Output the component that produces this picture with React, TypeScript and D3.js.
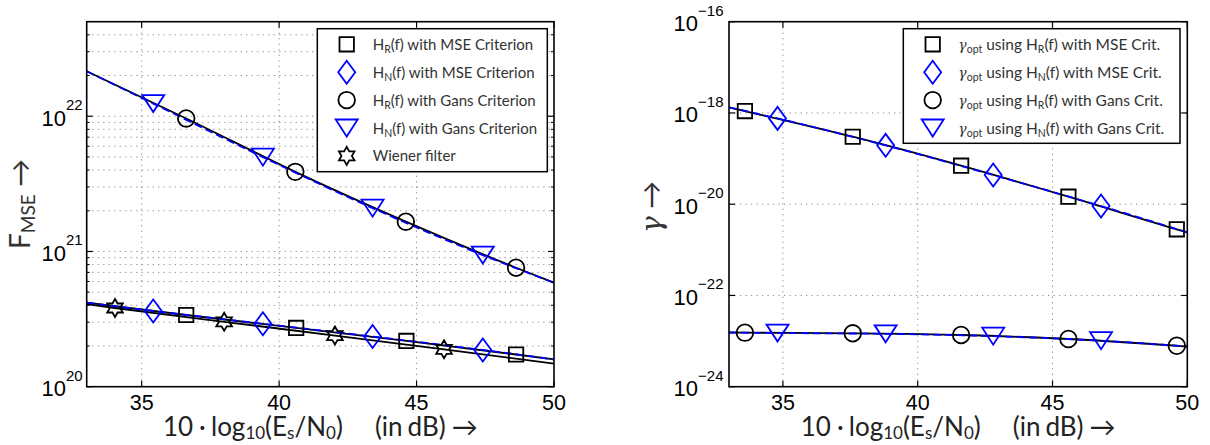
import * as d3 from "d3";

// ---- data (x in dB, y linear values) ----
// left panel: F_MSE
const hrGansX = [33, 36.62, 40.59, 44.61, 48.62, 50];
const hrGansY = [2.15e22, 9.63e21, 3.88e21, 1.66e21, 7.58e20, 5.87e20];
const hnGansX = [33, 35.42, 39.41, 43.4, 47.41, 50];
const hnGansY = [2.15e22, 1.24e22, 4.98e21, 2.09e21, 9.4e20, 5.87e20];
const hrMseX = [33, 36.62, 40.62, 44.63, 48.62, 50];
const hrMseY = [4.18e20, 3.39e20, 2.72e20, 2.18e20, 1.73e20, 1.59e20];
const hnMseX = [33, 35.42, 39.41, 43.4, 47.41, 50];
const hnMseY = [4.18e20, 3.63e20, 2.92e20, 2.35e20, 1.87e20, 1.59e20];
const wienerX = [33, 34.03, 38.0, 42.03, 46.0, 50];
const wienerY = [4.08e20, 3.82e20, 3.02e20, 2.39e20, 1.89e20, 1.48e20];

// right panel: gamma_opt
const gHrMseX = [33, 33.59, 37.59, 41.61, 45.59, 49.61, 50];
const gHrMseY = [1.33e-18, 1.1e-18, 3.01e-19, 6.98e-20, 1.46e-20, 2.82e-21, 2.42e-21];
const gHnMseX = [33, 34.8, 38.81, 42.8, 46.8, 50];
const gHnMseY = [1.33e-18, 7.6e-19, 1.95e-19, 4.37e-20, 9.1e-21, 2.42e-21];
const gHrGansX = [33, 33.59, 37.59, 41.61, 45.59, 49.61, 50];
const gHrGansY = [1.54e-23, 1.53e-23, 1.48e-23, 1.36e-23, 1.11e-23, 7.9e-24, 7.6e-24];
const gHnGansX = [33, 34.8, 38.81, 42.8, 46.8, 50];
const gHnGansY = [1.54e-23, 1.5e-23, 1.44e-23, 1.28e-23, 1.02e-23, 7.6e-24];

const xTicks = [35, 40, 45, 50];
const leftYMajor = [20, 21, 22];
const rightYMajor = [-16, -18, -20, -22, -24];

const BLUE = "#0000ff";
const TICK_FONT = "'Liberation Sans', Arial, sans-serif";
const LABEL_FONT = "Lato, 'DejaVu Sans', sans-serif";

// marker path builders
function markerPath(kind: string) {
  if (kind === "square") return "M-7.2,-7.2H7.2V7.2H-7.2Z";
  if (kind === "diamond") return "M0,-11.5L8.5,0L0,11.5L-8.5,0Z";
  if (kind === "circle") return "M8.3,0A8.3,8.3 0 1,1 -8.3,0A8.3,8.3 0 1,1 8.3,0Z";
  if (kind === "triangle") return "M-11,-8.5L11,-8.5L0,8.5Z";
  // hexagram
  const pts: string[] = [];
  for (let i = 0; i < 12; i++) {
    const r = i % 2 === 0 ? 9 : 9 / Math.sqrt(3);
    const a = (Math.PI / 6) * i - Math.PI / 2;
    pts.push(`${(r * Math.cos(a)).toFixed(2)},${(r * Math.sin(a)).toFixed(2)}`);
  }
  return "M" + pts.join("L") + "Z";
}

type Series = { xs: number[]; ys: number[]; color: string; dashed: boolean; marker: string };

function Panel({ x0, x1, yDomain, minorGrid, series, yMajor, tickGap }: any) {
  const y0 = 21.7, y1 = 386.7;
  const x = d3.scaleLinear().domain([33, 50]).range([x0, x1]);
  const y = d3.scaleLog().domain(yDomain).range([y1, y0]);

  // minor ticks/grid (2..9 times each decade) for left panel
  const minor: number[] = [];
  if (minorGrid) {
    const lo = Math.log10(yDomain[0]), hi = Math.log10(yDomain[1]);
    for (let e = Math.floor(lo); e <= Math.ceil(hi); e++) {
      for (let m = 2; m <= 9; m++) {
        const v = m * Math.pow(10, e);
        if (v > yDomain[0] && v < yDomain[1]) minor.push(v);
      }
    }
  }
  const gridY = [...yMajor.map((e: number) => Math.pow(10, e)), ...minor].filter(
    (v) => v > yDomain[0] * 1.0001 && v < yDomain[1] * 0.9999
  );

  const line = d3
    .line<[number, number]>()
    .x((d) => x(d[0]))
    .y((d) => y(d[1]))
    .curve(d3.curveMonotoneX);

  return (
    <g>
      <defs>
        <clipPath id={`clip${x0}`}>
          <rect x={x0} y={y0} width={x1 - x0} height={y1 - y0} />
        </clipPath>
      </defs>
      {/* grid */}
      {gridY.map((v: number, i: number) => (
        <line key={"gy" + i} x1={x0} x2={x1} y1={y(v)} y2={y(v)} stroke="#8a8a8a" strokeWidth={1} strokeDasharray="1.2,4.3" />
      ))}
      {xTicks.slice(0, 3).map((t) => (
        <line key={"gx" + t} x1={x(t)} x2={x(t)} y1={y0} y2={y1} stroke="#8a8a8a" strokeWidth={1} strokeDasharray="1.2,4.3" />
      ))}
      {/* lines: black first then blue dashed on top */}
      <g clipPath={`url(#clip${x0})`}>
        {series
          .slice()
          .sort((a: Series, b: Series) => Number(a.dashed) - Number(b.dashed))
          .map((s: Series, i: number) => (
            <path
              key={"l" + i}
              d={line(s.xs.map((v, k) => [v, s.ys[k]] as [number, number])) || ""}
              fill="none"
              stroke={s.color}
              strokeWidth={1.8}
              strokeDasharray={s.dashed ? "8,4" : undefined}
            />
          ))}
      </g>
      {/* markers at interior points */}
      {series.map((s: Series, i: number) =>
        s.xs.slice(1, -1).map((v, k) => (
          <path
            key={"m" + i + "_" + k}
            d={markerPath(s.marker)}
            transform={`translate(${x(v)},${y(s.ys[k + 1])})`}
            fill="none"
            stroke={s.color}
            strokeWidth={1.8}
          />
        ))
      )}
      {/* ticks */}
      {xTicks.map((t) => (
        <g key={"xt" + t}>
          <line x1={x(t)} x2={x(t)} y1={y1} y2={y1 - 6} stroke="black" strokeWidth={1.2} />
          <line x1={x(t)} x2={x(t)} y1={y0} y2={y0 + 6} stroke="black" strokeWidth={1.2} />
          <text x={x(t)} y={410} textAnchor="middle" fontFamily={TICK_FONT} fontSize={21.5} fill="black">
            {t}
          </text>
        </g>
      ))}
      {yMajor.map((e: number) => {
        const yy = y(Math.pow(10, e));
        return (
          <g key={"yt" + e}>
            <line x1={x0} x2={x0 + 6} y1={yy} y2={yy} stroke="black" strokeWidth={1.2} />
            <line x1={x1} x2={x1 - 6} y1={yy} y2={yy} stroke="black" strokeWidth={1.2} />
            <text x={x0 - tickGap} y={yy + 9.5} textAnchor="end" fontFamily={TICK_FONT} fontSize={22} fill="black">
              <tspan>10</tspan>
              <tspan fontSize={15} dy={-15.5}>
                {e < 0 ? "\u2212" + Math.abs(e) : String(e)}
              </tspan>
            </text>
          </g>
        );
      })}
      {minor.map((v, i) => (
        <g key={"mt" + i}>
          <line x1={x0} x2={x0 + 3} y1={y(v)} y2={y(v)} stroke="black" strokeWidth={1} />
          <line x1={x1} x2={x1 - 3} y1={y(v)} y2={y(v)} stroke="black" strokeWidth={1} />
        </g>
      ))}
      {/* frame */}
      <rect x={x0} y={y0} width={x1 - x0} height={y1 - y0} fill="none" stroke="black" strokeWidth={1.6} />
      {/* x label */}
      <text x={(x0 + x1) / 2} y={435.5} textAnchor="middle" fontFamily={LABEL_FONT} fontSize={26} fill="#222">
        <tspan>10</tspan>
        <tspan dx={6}>·</tspan>
        <tspan dx={6}>log</tspan>
        <tspan fontSize={17} dy={3.5}>10</tspan>
        <tspan dy={-3.5}>(E</tspan>
        <tspan fontSize={17} dy={3.5}>s</tspan>
        <tspan dy={-3.5}>/N</tspan>
        <tspan fontSize={17} dy={3.5}>0</tspan>
        <tspan dy={-3.5}>)</tspan>
        <tspan dx={32}>(in</tspan>
        <tspan dx={5}>dB)</tspan>
        <tspan dx={6}>→</tspan>
      </text>
    </g>
  );
}

function Legend({ bx, by, bw, bh, mx, tx, items, fs }: any) {
  return (
    <g>
      <rect x={bx} y={by} width={bw} height={bh} fill="white" stroke="black" strokeWidth={1.5} />
      {items.map((it: any, i: number) => {
        const yy = 44.3 + i * 27.9;
        return (
          <g key={i}>
            <path d={markerPath(it.marker)} transform={`translate(${mx},${yy})`} fill="none" stroke={it.color} strokeWidth={1.8} />
            <text x={tx} y={yy + 5.5} fontFamily={LABEL_FONT} fontSize={fs} fill="#333">
              {it.label}
            </text>
          </g>
        );
      })}
    </g>
  );
}

function hLabel(sub: string, rest: string) {
  return [
    <tspan key="a">H</tspan>,
    <tspan key="b" fontSize={10.5} dy={3}>{sub}</tspan>,
    <tspan key="c" dy={-3}>{rest}</tspan>,
  ];
}

function gLabel(sub: string, rest: string) {
  return [
    <tspan key="g" fontFamily="'DejaVu Serif', serif" fontStyle="italic" fontSize={14}>γ</tspan>,
    <tspan key="o" fontSize={10.5} dy={3}>opt</tspan>,
    <tspan key="u" dy={-3}> using H</tspan>,
    <tspan key="b" fontSize={10.5} dy={3}>{sub}</tspan>,
    <tspan key="c" dy={-3}>{rest}</tspan>,
  ];
}

export default function App() {
  const leftSeries: Series[] = [
    { xs: hrMseX, ys: hrMseY, color: "black", dashed: false, marker: "square" },
    { xs: hnMseX, ys: hnMseY, color: BLUE, dashed: true, marker: "diamond" },
    { xs: hrGansX, ys: hrGansY, color: "black", dashed: false, marker: "circle" },
    { xs: hnGansX, ys: hnGansY, color: BLUE, dashed: true, marker: "triangle" },
    { xs: wienerX, ys: wienerY, color: "black", dashed: false, marker: "star" },
  ];
  const rightSeries: Series[] = [
    { xs: gHrMseX, ys: gHrMseY, color: "black", dashed: false, marker: "square" },
    { xs: gHnMseX, ys: gHnMseY, color: BLUE, dashed: true, marker: "diamond" },
    { xs: gHrGansX, ys: gHrGansY, color: "black", dashed: false, marker: "circle" },
    { xs: gHnGansX, ys: gHnGansY, color: BLUE, dashed: true, marker: "triangle" },
  ];

  return (
    <svg width={1210} height={445} style={{ position: "absolute", left: 0, top: 0, background: "white" }}>
      <rect width={1210} height={445} fill="white" />
      <Panel x0={86.7} x1={554} yDomain={[1e20, 5e22]} minorGrid={true} series={leftSeries} yMajor={leftYMajor} tickGap={4} />
      <Panel x0={729} x1={1187.3} yDomain={[1e-24, 1e-16]} minorGrid={false} series={rightSeries} yMajor={rightYMajor} tickGap={5.5} />

      {/* y labels */}
      <text transform="translate(30,204) rotate(-90)" textAnchor="middle" fontFamily={LABEL_FONT} fontSize={28} fill="#333">
        <tspan>F</tspan>
        <tspan fontSize={19} dy={5}>MSE</tspan>
        <tspan dy={-5}> →</tspan>
      </text>
      <text transform="translate(661,207) rotate(-90)" textAnchor="middle" fontFamily={LABEL_FONT} fontSize={28} fill="#333">
        <tspan fontFamily="'DejaVu Serif', serif" fontStyle="italic">γ</tspan>
        <tspan> →</tspan>
      </text>

      <Legend
        bx={317.3}
        by={28.7}
        bw={230}
        bh={143}
        mx={346.7}
        tx={372.7}
        fs={15}
        items={[
          { marker: "square", color: "black", label: hLabel("R", "(f) with MSE Criterion") },
          { marker: "diamond", color: BLUE, label: hLabel("N", "(f) with MSE Criterion") },
          { marker: "circle", color: "black", label: hLabel("R", "(f) with Gans Criterion") },
          { marker: "triangle", color: BLUE, label: hLabel("N", "(f) with Gans Criterion") },
          { marker: "star", color: "black", label: "Wiener filter" },
        ]}
      />
      <Legend
        bx={903.3}
        by={28.7}
        bw={276.7}
        bh={114.6}
        mx={932.7}
        tx={958.3}
        fs={15.5}
        items={[
          { marker: "square", color: "black", label: gLabel("R", "(f) with MSE Crit.") },
          { marker: "diamond", color: BLUE, label: gLabel("N", "(f) with MSE Crit.") },
          { marker: "circle", color: "black", label: gLabel("R", "(f) with Gans Crit.") },
          { marker: "triangle", color: BLUE, label: gLabel("N", "(f) with Gans Crit.") },
        ]}
      />
    </svg>
  );
}
